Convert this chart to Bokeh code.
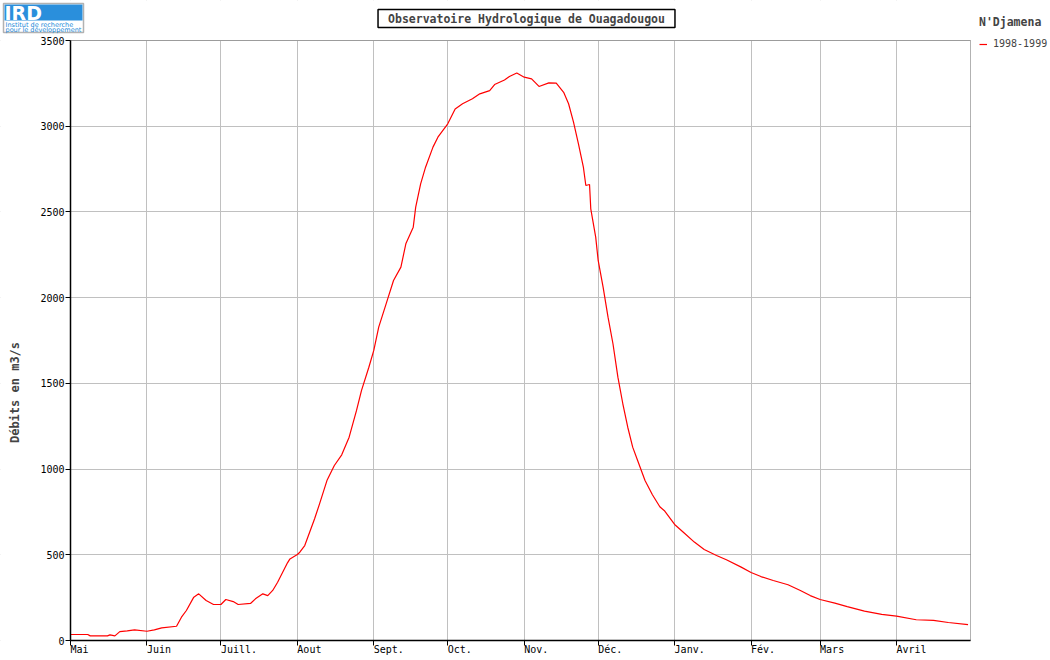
import math
from bokeh.plotting import figure
from bokeh.models import (Range1d, FixedTicker, Label, BoxAnnotation, LinearAxis,
                          Legend, LegendItem)
from bokeh.embed import file_html
from bokeh.resources import INLINE

# Day index from 1 May 1998, discharge (m3/s) of the Chari at N'Djamena
days = [0, 7, 8, 15, 16, 18, 20, 23, 26, 31, 34, 37, 43, 45, 47, 50, 52, 55, 58, 61,
        63, 66, 68, 73, 75, 78, 80, 82, 84, 88, 89, 92, 93, 95, 99, 101, 104, 107, 110, 113,
        116, 118, 121, 123, 125, 128, 131, 134, 136, 139, 140, 142, 144, 147, 149, 153, 156, 159, 163, 166,
        170, 172, 176, 178, 181, 184, 187, 190, 194, 197, 200, 202, 204, 206, 208, 209, 210.5, 211, 213, 214,
        216, 218, 220, 222, 224, 226, 228, 230, 233, 236, 239, 241, 245, 249, 253, 257, 262, 266, 272, 276,
        280, 285, 291, 296, 300, 304, 310, 315, 322, 329, 335, 343, 350, 356, 364]
flow = [35, 35, 27, 27, 33, 27, 52, 56, 62, 54, 62, 74, 83, 136, 175, 253, 272, 233, 210, 210,
        239, 227, 210, 216, 243, 272, 262, 292, 340, 453, 476, 502, 515, 554, 710, 797, 933, 1021, 1083, 1186,
        1342, 1458, 1594, 1692, 1828, 1964, 2100, 2178, 2314, 2411, 2528, 2664, 2761, 2878, 2936, 3014, 3101, 3131, 3160, 3189,
        3208, 3243, 3270, 3290, 3310, 3286, 3276, 3232, 3253, 3251, 3198, 3131, 3024, 2897, 2761, 2654, 2660, 2518, 2353, 2217,
        2061, 1886, 1731, 1536, 1381, 1244, 1128, 1050, 933, 850, 780, 755, 677, 626, 574, 531, 496, 471, 428, 397,
        373, 350, 325, 292, 262, 239, 218, 198, 171, 152, 142, 121, 117, 105, 93]

month_starts = [0, 31, 61, 92, 123, 153, 184, 214, 245, 276, 304, 335]
month_labels = ["Mai", "Juin", "Juill.", "Aout", "Sept.", "Oct.", "Nov.", "Déc.",
                "Janv.", "Fév.", "Mars", "Avril"]
y_ticks = [0, 500, 1000, 1500, 2000, 2500, 3000, 3500]

title_text = "Observatoire Hydrologique de Ouagadougou"
y_label = "Débits en m3/s"
station = "N'Djamena"
series_name = "1998-1999"

MONO = "DejaVu Sans Mono"

# ---- geometry: the frame covers the whole canvas; the plot area sits inside it
W, H = 1050, 660
PX_L, PX_R, PX_T, PX_B = 70, 970, 40, 640
X0, X1 = 0, 365
Y0, Y1 = 0, 3500
kx = (X1 - X0) / (PX_R - PX_L)
ky = (Y1 - Y0) / (PX_B - PX_T)
x_start, x_end = X0 - PX_L * kx, X1 + (W - PX_R) * kx
y_start, y_end = Y0 - (H - PX_B) * ky, Y1 + PX_T * ky

p = figure(width=W, height=H, title=None,
           x_range=Range1d(x_start, x_end), y_range=Range1d(y_start, y_end),
           output_backend="svg", toolbar_location=None, min_border=0,
           background_fill_color="white", border_fill_color="white")
p.outline_line_color = None

line_r = p.line(days, flow, line_color="#ff0000", line_width=1.2)

# ---- grids (limited to the plot area by white masks drawn over them)
p.xgrid.ticker = FixedTicker(ticks=month_starts)
p.ygrid.ticker = FixedTicker(ticks=y_ticks)
for g in (p.xgrid[0], p.ygrid[0]):
    g.grid_line_color = "#c0c0c0"
    g.grid_line_width = 1

for kw in (dict(left=x_start, right=x_end, bottom=Y1, top=y_end),
           dict(left=x_start, right=x_end, bottom=y_start, top=Y0),
           dict(left=x_start, right=X0, bottom=y_start, top=y_end),
           dict(left=X1, right=x_end, bottom=y_start, top=y_end)):
    p.add_layout(BoxAnnotation(fill_color="white", fill_alpha=1.0, line_color=None,
                               level="underlay", **kw))

# plot-area outline
p.add_layout(BoxAnnotation(left=X0, right=X1, bottom=Y0, top=Y1, fill_color=None,
                           fill_alpha=0, line_color="black", line_width=1))

# ---- axes fixed at the plot-area edges
xax = p.xaxis[0]
yax = p.yaxis[0]
xax.fixed_location = Y0
xax.bounds = (X0, X1)
xax.ticker = FixedTicker(ticks=month_starts)
xax.major_label_overrides = {m: "" for m in month_starts}
yax.fixed_location = X0
yax.bounds = (Y0, Y1)
yax.ticker = FixedTicker(ticks=y_ticks)
for ax in (xax, yax):
    ax.axis_line_color = "black"
    ax.axis_line_width = 1.5
    ax.major_tick_line_color = "black"
    ax.major_tick_out = 5
    ax.major_tick_in = 0
    ax.minor_tick_out = 0
    ax.minor_tick_in = 0
    ax.major_label_text_font = MONO
    ax.major_label_text_font_size = "10px"
    ax.major_label_text_color = "black"
    ax.major_label_standoff = 1

# month names start at their tick: a second axis carries them, shifted by half a label
CHAR_W = 0.602 * 10  # px per character, DejaVu Sans Mono 10px
label_pos = [round(m + len(l) * CHAR_W / 2 * kx, 3) for m, l in zip(month_starts, month_labels)]
month_axis = LinearAxis(fixed_location=Y0, ticker=FixedTicker(ticks=label_pos),
                        major_label_overrides={pos: l for pos, l in zip(label_pos, month_labels)},
                        axis_line_color=None, major_tick_line_color=None,
                        major_tick_out=0, major_tick_in=0, minor_tick_out=0, minor_tick_in=0,
                        major_label_standoff=3, major_label_text_font=MONO,
                        major_label_text_font_size="10px", major_label_text_color="black")
p.add_layout(month_axis, "below")

# ---- title box
p.add_layout(Label(x=526, y=H - 18, x_units="screen", y_units="screen", text=title_text,
                   text_align="center", text_baseline="middle",
                   text_font=MONO, text_font_size="11.5px", text_font_style="bold",
                   border_line_color="black", border_line_width=1.5,
                   background_fill_color="white", padding=(10, 2)))

# ---- y-axis title
p.add_layout(Label(x=14, y=H - 392, x_units="screen", y_units="screen", text=y_label,
                   angle=math.pi / 2, text_align="center", text_baseline="middle",
                   text_font=MONO, text_font_size="12px", text_font_style="bold"))

# ---- legend (right, outside the plot area)
legend = Legend(items=[LegendItem(label=series_name, renderers=[line_r])],
                title=station, location=(979, H - 49),
                title_text_font=MONO, title_text_font_size="11.5px", title_text_font_style="bold",
                label_text_font=MONO, label_text_font_size="10px",
                glyph_width=8, glyph_height=10, label_height=10, label_standoff=6,
                padding=0, margin=0, spacing=0, title_standoff=9,
                border_line_color=None, background_fill_alpha=0)
p.add_layout(legend)

# ---- IRD logo (top left)
p.add_layout(BoxAnnotation(left=3, right=83, top=H - 3, bottom=H - 32,
                           left_units="screen", right_units="screen",
                           top_units="screen", bottom_units="screen",
                           fill_color="white", fill_alpha=1.0,
                           line_color="black", line_width=1.5))
p.add_layout(BoxAnnotation(left=4, right=82, top=H - 4, bottom=H - 20,
                           left_units="screen", right_units="screen",
                           top_units="screen", bottom_units="screen",
                           fill_color="#2a8fdc", fill_alpha=1.0, line_alpha=0))
p.add_layout(Label(x=4, y=H - 12, x_units="screen", y_units="screen", text="IRD",
                   text_align="left", text_baseline="middle", text_color="white",
                   text_font="DejaVu Sans", text_font_size="19px", text_font_style="bold"))
p.add_layout(Label(x=5, y=H - 24, x_units="screen", y_units="screen",
                   text="Institut de recherche",
                   text_align="left", text_baseline="middle", text_color="#1a88d8",
                   text_font="DejaVu Sans", text_font_size="6.5px"))
p.add_layout(Label(x=5, y=H - 29, x_units="screen", y_units="screen",
                   text="pour le développement",
                   text_align="left", text_baseline="middle", text_color="#1a88d8",
                   text_font="DejaVu Sans", text_font_size="6.5px"))

open("out.html", "w").write(file_html(p, INLINE))
